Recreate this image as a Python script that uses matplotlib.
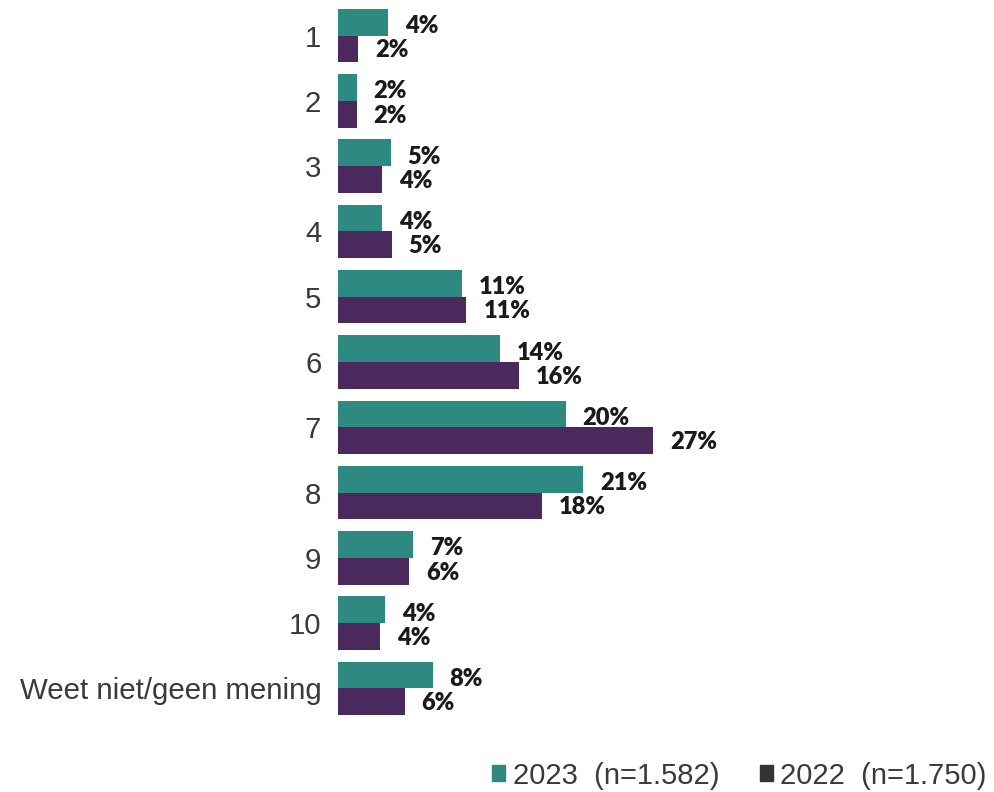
import matplotlib.pyplot as plt
from matplotlib.patches import Patch
import numpy as np

categories = ['1', '2', '3', '4', '5', '6', '7', '8', '9', '10', 'Weet niet/geen mening']
# bar lengths (the printed labels are rounded)
values_2023 = [4.3, 1.6, 4.5, 3.8, 10.6, 13.9, 19.5, 21.0, 6.4, 4.0, 8.1]
values_2022 = [1.7, 1.6, 3.8, 4.6, 11.0, 15.5, 27.0, 17.5, 6.1, 3.6, 5.7]
labels_2023 = ['4%', '2%', '5%', '4%', '11%', '14%', '20%', '21%', '7%', '4%', '8%']
labels_2022 = ['2%', '2%', '4%', '5%', '11%', '16%', '27%', '18%', '6%', '4%', '6%']
legend_labels = ['2023  (n=1.582)', '2022  (n=1.750)']

teal = '#2e8a80'
purple = '#4a2a5c'

fig = plt.figure(figsize=(9.95, 7.92), dpi=100)
ax = fig.add_axes([338 / 995, 1 - 721 / 792, 622 / 995, 718 / 792])

y = np.arange(len(categories))
h = 0.41
ax.barh(y - h / 2, values_2023, height=h, color=teal)
ax.barh(y + h / 2, values_2022, height=h, color=purple)

# value labels next to the bars
for i in range(len(categories)):
    ax.annotate(labels_2023[i], (values_2023[i], y[i] - h / 2 + 0.06), xytext=(17, 0),
                textcoords='offset pixels', va='center', ha='left',
                fontsize=17, fontweight='heavy', family='Lato', color='#1a1a1a')
    ax.annotate(labels_2022[i], (values_2022[i], y[i] + h / 2 + 0.02), xytext=(17, 0),
                textcoords='offset pixels', va='center', ha='left',
                fontsize=17, fontweight='heavy', family='Lato', color='#1a1a1a')

ax.set_ylim(len(categories) - 0.5, -0.5)
ax.set_xlim(0, 622 / 11.67)
ax.set_yticks(y)
ax.set_yticklabels(categories, fontsize=21.2, family='Liberation Sans', color='#3a3a3a')
ax.tick_params(axis='y', length=0, pad=12)
ax.set_xticks([])
for s in ax.spines.values():
    s.set_visible(False)

handles = [Patch(color=teal), Patch(color='#333333')]
fig.legend(handles, legend_labels, loc='lower right', bbox_to_anchor=(1.018, -0.03),
           ncol=2, frameon=False, handlelength=0.45, handleheight=0.45, handletextpad=0.25,
           columnspacing=1.4, prop={'family': 'Liberation Sans', 'size': 21},
           labelcolor='#3a3a3a')

fig.savefig('out.png', dpi=100, facecolor='white')
